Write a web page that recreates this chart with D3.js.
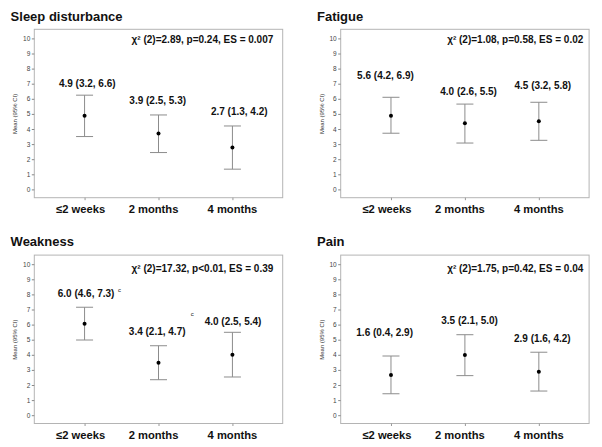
<!DOCTYPE html>
<html><head><meta charset="utf-8">
<script src="https://cdn.jsdelivr.net/npm/d3@7"></script>
<style>
body{margin:0;background:#fff}
svg{display:block}
text{font-family:"Liberation Sans",Arial,Helvetica,sans-serif}
</style>
</head><body>
<svg id="chart" width="602" height="447"></svg>
<script>
// ---------- data ----------
const categories = ["≤2 weeks", "2 months", "4 months"];
const panelTitles = ["Sleep disturbance", "Fatigue", "Weakness", "Pain"];
const statTexts = [
  "χ² (2)=2.89, p=0.24, ES = 0.007",
  "χ² (2)=1.08, p=0.58, ES = 0.02",
  "χ² (2)=17.32, p<0.01, ES = 0.39",
  "χ² (2)=1.75, p=0.42, ES = 0.04"
];
const yTicks = [0, 1, 2, 3, 4, 5, 6, 7, 8, 9, 10];
const yAxisTitle = "Mean (95% CI)";

// plotted marks (as drawn in the figure)
const sleepMean = [4.87, 3.70, 2.77];
const sleepLower = [3.50, 2.44, 1.34];
const sleepUpper = [6.24, 4.93, 4.20];
const fatigueMean = [4.88, 4.38, 4.51];
const fatigueLower = [3.72, 3.07, 3.25];
const fatigueUpper = [6.10, 5.65, 5.77];
const weaknessMean = [6.06, 3.48, 4.01];
const weaknessLower = [4.98, 2.35, 2.53];
const weaknessUpper = [7.15, 4.60, 5.49];
const painMean = [2.66, 3.99, 2.88];
const painLower = [1.42, 2.62, 1.60];
const painUpper = [3.92, 5.33, 4.17];

// annotation texts
const sleepLabels = ["4.9 (3.2, 6.6)", "3.9 (2.5, 5.3)", "2.7 (1.3, 4.2)"];
const fatigueLabels = ["5.6 (4.2, 6.9)", "4.0 (2.6, 5.5)", "4.5 (3.2, 5.8)"];
const weaknessLabels = ["6.0 (4.6, 7.3)", "3.4 (2.1, 4.7)", "4.0 (2.5, 5.4)"];
const painLabels = ["1.6 (0.4, 2.9)", "3.5 (2.1, 5.0)", "2.9 (1.6, 4.2)"];
const weaknessMarks = ["c", "c", ""];

const panelMeans = [sleepMean, fatigueMean, weaknessMean, painMean];
const panelLowers = [sleepLower, fatigueLower, weaknessLower, painLower];
const panelUppers = [sleepUpper, fatigueUpper, weaknessUpper, painUpper];
const panelLabels = [sleepLabels, fatigueLabels, weaknessLabels, painLabels];
const panelMarks = [["", "", ""], ["", "", ""], weaknessMarks, ["", "", ""]];

// ---------- layout ----------
const origins = [[0, 0], [306.4, 0], [0, 225.8], [306.4, 225.8]];
const box = {left: 34.3, right: 282.7, top: 29.3, bottom: 197.7};
const yRange = [189.4, 38.4];
const statRight = [273.3, 276.9, 273.3, 276.9];
const statBase = [43.3, 43.3, 46.0, 46.0];
const labelDx = [[2.7, -0.8, 6.8], [-5.5, 3.7, 4], [1.5, -1.3, 0.6], [-6.3, 4.7, 3.5]];
const labelLift = [[8.6, 10.8, 11], [18.6, 9, 13], [10, 10.7, 7.3], [20.3, 10.7, 10.6]];
const markOffset = [[33.4, -5.6], [32.2, -19.3], [0, 0]];
const xLabelDx = [-4.5, -5.5, -0.5];

const svg = d3.select("#chart");
const x = d3.scalePoint().domain(categories).range([box.left, box.right]).padding(0.68);
const y = d3.scaleLinear().domain([0, 10]).range(yRange);

panelTitles.forEach((title, p) => {
  const g = svg.append("g").attr("transform", `translate(${origins[p][0]},${origins[p][1]})`);

  g.append("text").attr("x", 10.6).attr("y", 20.7)
    .attr("font-size", 13).attr("font-weight", "bold").attr("fill", "#111").text(title);

  // frame
  g.append("rect").attr("x", box.left).attr("y", box.top)
    .attr("width", box.right - box.left).attr("height", box.bottom - box.top)
    .attr("fill", "none").attr("stroke", "#b4b4b4").attr("stroke-width", 1);

  // y axis
  const ya = g.append("g").attr("transform", `translate(${box.left},0)`)
    .call(d3.axisLeft(y).tickValues(yTicks).tickSize(2.5).tickPadding(1.5).tickFormat(d3.format("d")));
  ya.select(".domain").remove();
  ya.selectAll("line").attr("stroke", "#888");
  ya.selectAll("text").attr("font-size", 6.5).attr("fill", "#444")
    .attr("font-family", '"Liberation Sans",Arial,sans-serif');

  // x axis
  const xa = g.append("g").attr("transform", `translate(0,${box.bottom})`)
    .call(d3.axisBottom(x).tickSize(2.5).tickPadding(9));
  xa.select(".domain").remove();
  xa.selectAll("line").attr("stroke", "#999");
  xa.selectAll("text").attr("font-size", 11.2).attr("font-weight", "bold").attr("fill", "#111")
    .attr("font-family", '"Liberation Sans",Arial,sans-serif')
    .attr("dy", null).attr("y", 15.6)
    .attr("dx", (d, i) => xLabelDx[i]);

  // y axis title
  g.append("text").attr("transform", `translate(17.4,${(yRange[0] + yRange[1]) / 2}) rotate(-90)`)
    .attr("text-anchor", "middle").attr("font-size", 6).attr("fill", "#333").text(yAxisTitle);

  // stats
  g.append("text").attr("x", statRight[p]).attr("y", statBase[p]).attr("text-anchor", "end")
    .attr("font-size", 10).attr("font-weight", "bold").attr("fill", "#111").text(statTexts[p]);

  const rows = categories.map((c, i) => ({
    c, i, mean: panelMeans[p][i], lo: panelLowers[p][i], hi: panelUppers[p][i],
    label: panelLabels[p][i], mark: panelMarks[p][i]
  }));

  const eb = g.append("g");
  eb.selectAll("line.v").data(rows).join("line").attr("class", "v")
    .attr("x1", d => x(d.c)).attr("x2", d => x(d.c))
    .attr("y1", d => y(d.lo)).attr("y2", d => y(d.hi))
    .attr("stroke", "#8c8c8c").attr("stroke-width", 1);
  ["lo", "hi"].forEach(k => {
    eb.selectAll("line.cap" + k).data(rows).join("line").attr("class", "cap" + k)
      .attr("x1", d => x(d.c) - 8.5).attr("x2", d => x(d.c) + 8.5)
      .attr("y1", d => y(d[k])).attr("y2", d => y(d[k]))
      .attr("stroke", "#8c8c8c").attr("stroke-width", 1);
  });
  eb.selectAll("circle").data(rows).join("circle")
    .attr("cx", d => x(d.c)).attr("cy", d => y(d.mean)).attr("r", 2).attr("fill", "#000");

  g.selectAll("text.ci").data(rows).join("text").attr("class", "ci")
    .attr("x", d => x(d.c) + labelDx[p][d.i])
    .attr("y", d => y(d.hi) - labelLift[p][d.i])
    .attr("text-anchor", "middle").attr("font-size", 10).attr("font-weight", "bold").attr("fill", "#111")
    .text(d => d.label);

  g.selectAll("text.mk").data(rows.filter(d => d.mark)).join("text").attr("class", "mk")
    .attr("x", d => x(d.c) + markOffset[d.i][0])
    .attr("y", d => y(d.hi) - labelLift[p][d.i] + markOffset[d.i][1])
    .attr("font-size", 6).attr("fill", "#222").text(d => d.mark);
});
</script>
</body></html>
